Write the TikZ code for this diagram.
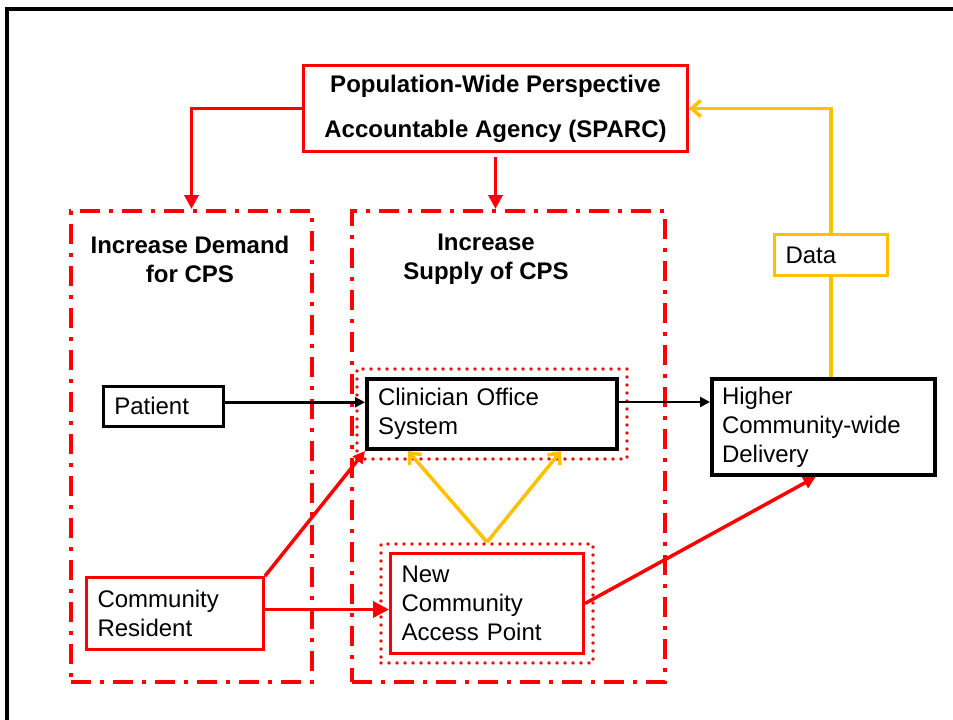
\documentclass[tikz,border=0pt]{standalone}
\usepackage{fontspec}
\setmainfont{Liberation Sans}
\usetikzlibrary{arrows.meta,fit}
\definecolor{pptred}{RGB}{255,0,0}
\definecolor{pptgold}{RGB}{255,192,0}

\begin{document}
\begin{tikzpicture}[x=1pt,y=-1pt,
  every node/.style={font=\fontsize{24}{29}\selectfont},
  txtbox/.style n args={2}{draw, rectangle, anchor=north west, inner ysep=0pt,
    inner xsep=11pt, text width=#1-22pt, minimum height=#2, align=left},
  redbox/.style={draw=pptred, line width=3pt},
  blackbox/.style={draw=black, line width=4pt},
  thinbox/.style={draw=black, line width=2.5pt},
  goldbox/.style={draw=pptgold, line width=3pt},
  zone/.style={draw=pptred, line width=4pt, rectangle, anchor=north west,
    dash pattern=on 20pt off 9pt on 4pt off 9pt},
  dotframe/.style={draw=pptred, line width=3.8pt, rectangle, inner sep=8pt,
    dash pattern=on 0pt off 8pt, line cap=round},
  title/.style={font=\fontsize{24}{29}\selectfont\bfseries, align=center},
  redarrow/.style={draw=pptred, line width=3.5pt, -{Triangle[length=14pt,width=14pt]}},
  redline/.style={draw=pptred, line width=3.5pt},
  blackarrow/.style={draw=black, line width=2.5pt, -{Triangle[length=10pt,width=10pt]}},
  goldline/.style={draw=pptgold, line width=3.5pt},
  goldarrow/.style={draw=pptgold, line width=3.5pt, -{Straight Barb[length=9pt,width=16pt]}},
]
\useasboundingbox (0,0) rectangle (953,720);

% page frame
\draw[line width=4pt] (6.5,720) -- (6.5,9) -- (953,9);

% dash-dot zones
\node[zone, minimum width=241pt, minimum height=471pt] (leftzone) at (69,209) {};
\node[zone, minimum width=313pt, minimum height=471pt] (midzone) at (350,209) {};
\node[title] (demandtitle) at (190,259) {Increase Demand\\for CPS};
\node[title] (supplytitle) at (486,259) {Increase\\Supply of CPS};

% agency box
\node[redbox, rectangle, anchor=north west, minimum width=384pt, minimum height=86pt,
  font=\fontsize{24}{45}\selectfont\bfseries, align=center, inner sep=0pt]
  (sparc) at (302,64) {Population-Wide Perspective\\Accountable Agency (SPARC)};

% content boxes
\node[txtbox={120pt}{40pt}, thinbox] (pat) at (102,385) {Patient};
\node[txtbox={250pt}{70pt}, blackbox] (cos) at (365,377) {Clinician Office\\System};
\node[txtbox={223pt}{96pt}, blackbox, inner xsep=10pt, text width=203pt] (hcd) at (710,377)
  {Higher\\Community-wide\\Delivery};
\node[txtbox={113pt}{41pt}, goldbox] (data) at (773,233) {Data};
\node[txtbox={177pt}{72pt}, redbox] (cr) at (85,576) {Community\\Resident};
\node[txtbox={193pt}{100pt}, redbox] (ncap) at (389,552) {New\\Community\\Access Point};

% dotted outlines
\node[dotframe, fit=(cos)] (cosfit) {};
\node[dotframe, fit=(ncap)] (ncapfit) {};

% agency arrows
\draw[redarrow] (sparc.west) -| (leftzone.north);
\draw[redarrow] ([yshift=-4pt]sparc.south) -- (sparc.south |- midzone.north);

% data feedback
\draw[goldline] (data.south) -- (data.south |- hcd.north);
\draw[goldarrow] (data.north) |- (sparc.east);

% flow arrows
\draw[blackarrow] ([yshift=4pt]pat.east) -- ([yshift=4pt]pat.east -| cos.west);
\draw[blackarrow] ([yshift=12pt]cos.east) -- ([yshift=12pt]cos.east -| hcd.west);
\draw[redline, -{Triangle[length=16pt,width=16pt]}] ([yshift=4pt]cr.east) -- ([yshift=4pt]cr.east -| ncap.west);
\draw[redline, -{Triangle[length=12pt,width=12pt]}] (cr.north east) -- (cos.south west);
\draw[redline, -{Triangle[length=12pt,width=12pt]}] (ncap.east) -- ([xshift=-8pt]hcd.south);
\draw[goldarrow] (ncapfit.north) -- ([xshift=43pt]cos.south west);
\draw[goldarrow] (ncapfit.north) -- ([xshift=-58pt]cos.south east);

\end{tikzpicture}
\end{document}
